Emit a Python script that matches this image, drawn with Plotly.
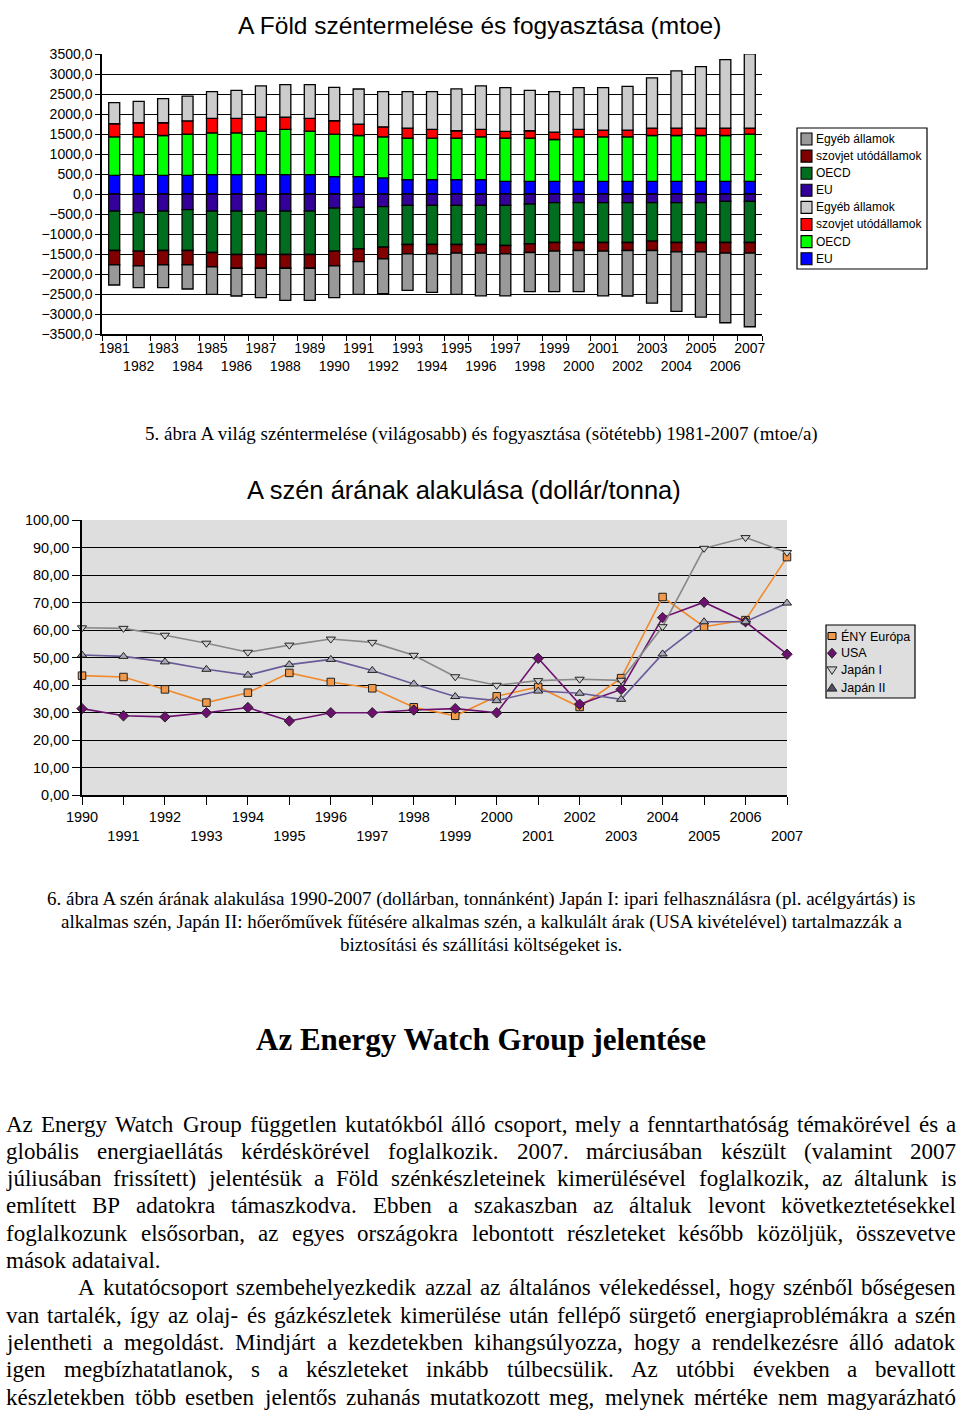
import plotly.graph_objects as go

# ---------------- data: chart 1 (mtoe) ----------------
years1 = [str(y) for y in range(1981, 2008)]
prod_eu = [468, 468, 468, 468, 485, 485, 485, 485, 485, 435, 435, 401, 360, 360, 360, 360,
           318, 318, 318, 318, 318, 318, 318, 318, 318, 318, 318]
prod_oecd = [962, 962, 995, 1028, 1045, 1045, 1087, 1129, 1087, 1062, 1028, 1028, 1037, 1037, 1037, 1070,
             1079, 1079, 1045, 1112, 1112, 1112, 1145, 1145, 1145, 1145, 1179]
prod_soviet = [326, 351, 318, 334, 360, 360, 351, 309, 318, 334, 284, 251, 251, 217, 184, 184,
               167, 184, 184, 184, 167, 167, 184, 184, 184, 184, 150]
prod_other = [527, 535, 602, 619, 669, 702, 778, 811, 844, 836, 878, 878, 911, 945, 1045, 1087,
              1095, 1012, 1012, 1045, 1062, 1095, 1254, 1430, 1538, 1714, 1856]
cons_eu = [-426, -468, -426, -393, -426, -426, -426, -426, -426, -351, -334, -318, -284, -284, -284, -284,
           -284, -251, -217, -217, -217, -217, -217, -217, -217, -184, -184]
cons_oecd = [-987, -962, -987, -1020, -1037, -1087, -1087, -1087, -1087, -1079, -1037, -1012, -978, -978, -978, -978,
             -1003, -995, -995, -995, -995, -995, -962, -995, -995, -1028, -1028]
cons_soviet = [-360, -368, -360, -360, -360, -343, -343, -343, -343, -368, -318, -293, -234, -234, -217, -217,
               -209, -217, -217, -201, -217, -201, -234, -234, -234, -268, -268]
cons_other = [-502, -543, -569, -602, -686, -694, -736, -803, -803, -794, -819, -870, -911, -962, -1028, -1070,
              -1053, -978, -1012, -1028, -1120, -1137, -1313, -1488, -1630, -1739, -1839]
ticktext1 = [y if int(y) % 2 == 1 else "<br>" + y for y in years1]

# ---------------- data: chart 2 (dollar/tonne) ----------------
years2 = list(range(1990, 2008))
eny = [43.4, 42.9, 38.4, 33.6, 37.2, 44.4, 41.1, 38.8, 31.9, 28.8, 35.9, 39.3, 32.0, 42.5, 72.0, 61.2, 63.6, 86.5]
usa = [31.4, 28.8, 28.4, 29.9, 31.8, 26.9, 29.9, 29.9, 30.9, 31.4, 29.9, 49.7, 33.0, 38.4, 64.5, 70.1, 63.0, 51.2]
jap1 = [60.8, 60.6, 58.1, 55.2, 51.9, 54.5, 56.7, 55.5, 50.8, 43.0, 39.9, 41.6, 42.1, 41.7, 61.2, 89.7, 93.6, 88.2]
jap2 = [50.9, 50.4, 48.4, 45.7, 43.6, 47.4, 49.3, 45.3, 40.4, 35.8, 34.3, 37.8, 37.0, 34.8, 51.3, 63.0, 63.0, 69.8]
ticktext2 = [str(y) if y % 2 == 0 else "<br>" + str(y) for y in years2]

# ---------------- texts ----------------
title1 = "A Föld széntermelése és fogyasztása (mtoe)"
title2 = "A szén árának alakulása (dollár/tonna)"
caption5 = "5. ábra A világ széntermelése (világosabb) és fogyasztása (sötétebb) 1981-2007 (mtoe/a)"
caption6 = [
    "6. ábra A szén árának alakulása 1990-2007 (dollárban, tonnánként) Japán I: ipari felhasználásra (pl. acélgyártás) is",
    "alkalmas szén, Japán II: hőerőművek fűtésére alkalmas szén, a kalkulált árak (USA kivételével) tartalmazzák a",
    "biztosítási és szállítási költségeket is.",
]
heading = "Az Energy Watch Group jelentése"
body_lines = [
    ("Az Energy Watch Group független kutatókból álló csoport, mely a fenntarthatóság témakörével és a", True, False),
    ("globális energiaellátás kérdéskörével foglalkozik. 2007. márciusában készült (valamint 2007", True, False),
    ("júliusában frissített) jelentésük a Föld szénkészleteinek kimerülésével foglalkozik, az általunk is", True, False),
    ("említett BP adatokra támaszkodva. Ebben a szakaszban az általuk levont következtetésekkel", True, False),
    ("foglalkozunk elsősorban, az egyes országokra lebontott részleteket később közöljük, összevetve", True, False),
    ("mások adataival.", False, False),
    ("A kutatócsoport szembehelyezkedik azzal az általános vélekedéssel, hogy szénből bőségesen", True, True),
    ("van tartalék, így az olaj- és gázkészletek kimerülése után fellépő sürgető energiaproblémákra a szén", True, False),
    ("jelentheti a megoldást. Mindjárt a kezdetekben kihangsúlyozza, hogy a rendelkezésre álló adatok", True, False),
    ("igen megbízhatatlanok, s a készleteket inkább túlbecsülik. Az utóbbi években a bevallott", True, False),
    ("készletekben több esetben jelentős zuhanás mutatkozott meg, melynek mértéke nem magyarázható", True, False),
]

W, H = 960, 1412
SANS = "Liberation Sans"
SERIF = "Liberation Serif"


def px(x):
    return x / W


def py(y):
    return 1 - y / H


fig = go.Figure()

# ---------- chart 1: stacked bars ----------
bar_specs = [
    ("EU", prod_eu, "#0000FF"),
    ("OECD", prod_oecd, "#00FF00"),
    ("szovjet utódállamok", prod_soviet, "#FF0000"),
    ("Egyéb államok", prod_other, "#CCCCCC"),
    ("EU", cons_eu, "#330099"),
    ("OECD", cons_oecd, "#006E1E"),
    ("szovjet utódállamok", cons_soviet, "#800000"),
    ("Egyéb államok", cons_other, "#999999"),
]
for name, vals, col in bar_specs:
    fig.add_trace(go.Bar(
        x=years1, y=vals, name=name, xaxis="x", yaxis="y", showlegend=False,
        marker=dict(color=col, line=dict(color="black", width=1.3)),
    ))

# ---------- chart 2: lines ----------
line_specs = [
    ("ÉNY Európa", eny, "#F08A2C", "square", "#F39A4A", 7.5),
    ("USA", usa, "#6E1070", "diamond", "#6E1070", 8),
    ("Japán I", jap1, "#888888", "triangle-down", "#D0D0D0", 8),
    ("Japán II", jap2, "#6A5A98", "triangle-up", "#A8A8B8", 8),
]
for name, vals, lc, sym, fc, sz in line_specs:
    fig.add_trace(go.Scatter(
        x=years2, y=vals, name=name, xaxis="x2", yaxis="y2", mode="lines+markers",
        line=dict(color=lc, width=1.6), cliponaxis=False, showlegend=False,
        marker=dict(symbol=sym, size=sz, color=fc, line=dict(color="#222222", width=1)),
    ))

annotations = []
shapes = [dict(type="rect", xref="paper", yref="paper", x0=px(82), x1=px(787), y0=py(795), y1=py(520),
               fillcolor="#DEDEDE", line=dict(width=0), layer="below")]


def ann(text, x, y, size, family, xanchor="center", bold=False):
    annotations.append(dict(
        text=("<b>%s</b>" % text) if bold else text, x=px(x), y=py(y), xref="paper", yref="paper",
        xanchor=xanchor, yanchor="middle", showarrow=False, borderpad=0, borderwidth=0,
        font=dict(family=family, size=size, color="black"),
    ))


def rect(x0, y0, x1, y1, fill, lw=1.2):
    shapes.append(dict(type="rect", xref="paper", yref="paper", x0=px(x0), x1=px(x1), y0=py(y1), y1=py(y0),
                       fillcolor=fill, line=dict(color="black", width=lw), layer="above"))


def poly(points, fill):
    d = "M " + " L ".join("%.5f,%.5f" % (px(a), py(b)) for a, b in points) + " Z"
    shapes.append(dict(type="path", xref="paper", yref="paper", path=d, fillcolor=fill,
                       line=dict(color="#222222", width=1), layer="above"))


ann(title1, 479, 25, 24.5, SANS)
ann(title2, 464, 490, 25.5, SANS)
ann(caption5, 481, 434, 19, SERIF)
for i, line in enumerate(caption6):
    ann(line, 481, [899, 922, 944][i], 19, SERIF)
ann(heading, 481, 1039, 31, SERIF, bold=True)

# ---------- legend of chart 1 (reversed trace order, like the reference) ----------
rect(797, 128, 927, 269, "white")
for k, (name, vals, col) in enumerate(reversed(bar_specs)):
    yc = 139 + k * 17.1
    rect(801, yc - 6, 812, yc + 6, col, lw=1.1)
    ann(name, 816, yc, 12, SANS, xanchor="left")

# ---------- legend of chart 2 ----------
rect(826, 625, 915, 698, "#DEDEDE")
for k, (name, vals, lc, sym, fc, sz) in enumerate(line_specs):
    yc = 636 + k * 17.2
    xc = 832
    if sym == "square":
        rect(xc - 4, yc - 3.5, xc + 4, yc + 3.5, fc, lw=1)
    elif sym == "diamond":
        poly([(xc, yc - 5), (xc + 4.5, yc), (xc, yc + 5), (xc - 4.5, yc)], fc)
    elif sym == "triangle-down":
        poly([(xc - 5, yc - 3.5), (xc + 5, yc - 3.5), (xc, yc + 4)], fc)
    else:
        poly([(xc - 5, yc + 3.5), (xc + 5, yc + 3.5), (xc, yc - 4)], "#505060")
    ann(name, 841, yc, 12.5, SANS, xanchor="left")

# Times-metric widths (per 1000 em) used to justify body lines
TW = {' ': 250, 'a': 444, 'b': 500, 'c': 444, 'd': 500, 'e': 444, 'f': 333, 'g': 500, 'h': 500, 'i': 278,
      'j': 278, 'k': 500, 'l': 278, 'm': 778, 'n': 500, 'o': 500, 'p': 500, 'q': 500, 'r': 333, 's': 389,
      't': 278, 'u': 500, 'v': 500, 'w': 722, 'x': 500, 'y': 500, 'z': 444,
      'A': 722, 'B': 667, 'C': 667, 'D': 722, 'E': 611, 'F': 556, 'G': 722, 'H': 722, 'I': 333, 'J': 389,
      'K': 722, 'L': 611, 'M': 889, 'N': 722, 'O': 722, 'P': 556, 'Q': 722, 'R': 667, 'S': 556, 'T': 611,
      'U': 722, 'V': 722, 'W': 944, 'X': 722, 'Y': 722, 'Z': 611,
      '.': 250, ',': 250, '-': 333, '(': 333, ')': 333, ':': 278, '/': 278,
      'á': 444, 'é': 444, 'í': 278, 'ó': 500, 'ö': 500, 'ő': 500, 'ú': 500, 'ü': 500, 'ű': 500, 'É': 611}
FS = 23
LEFT, RIGHT = 6, 956
body_y0, body_dy = 1124, 27.3
for i, (line, justify, indent) in enumerate(body_lines):
    y = body_y0 + i * body_dy
    left = LEFT + (72 if indent else 0)
    if not justify:
        ann(line, left, y, FS, SERIF, xanchor="left")
        continue
    words = line.split(" ")
    widths = [sum(TW.get(c, 500) for c in w) / 1000 * FS for w in words]
    gap = (RIGHT - left - sum(widths)) / (len(words) - 1)
    x = left
    for j, w in enumerate(words):
        if j == len(words) - 1:
            ann(w, RIGHT, y, FS, SERIF, xanchor="right")
        else:
            ann(w, x, y, FS, SERIF, xanchor="left")
        x += widths[j] + gap

fig.update_layout(
    template="none",
    width=W, height=H, autosize=False,
    margin=dict(l=0, r=0, t=0, b=0, pad=0),
    paper_bgcolor="white", plot_bgcolor="rgba(0,0,0,0)",
    separators=",.",
    barmode="relative", bargap=0.55,
    font=dict(family=SANS, color="black"),
    showlegend=False,
    annotations=annotations,
    shapes=shapes,
    xaxis=dict(domain=[px(102), px(762)], anchor="y", type="category", automargin=False,
               tickvals=years1, ticktext=ticktext1, tickangle=0,
               showline=True, linecolor="black", linewidth=1.5, showgrid=False, zeroline=False,
               ticks="outside", tickson="boundaries", ticklen=5, tickcolor="black", tickwidth=1.3,
               tickfont=dict(size=14, family=SANS)),
    yaxis=dict(domain=[py(334), py(54)], anchor="x", range=[-3500, 3500], dtick=500, tickformat=".1f",
               automargin=False,
               showline=True, linecolor="black", linewidth=1.5,
               showgrid=True, gridcolor="black", gridwidth=1.3, zeroline=False,
               ticks="outside", ticklen=5, tickcolor="black", tickwidth=1.3,
               tickfont=dict(size=14, family=SANS)),
    xaxis2=dict(domain=[px(82), px(787)], anchor="y2", range=[1990, 2007], automargin=False,
                tickvals=years2, ticktext=ticktext2, tickangle=0,
                showline=True, linecolor="black", linewidth=1.5, showgrid=False, zeroline=False,
                ticks="outside", ticklen=8, tickcolor="black", tickwidth=1.3,
                tickfont=dict(size=14.5, family=SANS)),
    yaxis2=dict(domain=[py(795), py(520)], anchor="x2", range=[0, 100], dtick=10, tickformat=".2f",
                automargin=False,
                showline=True, linecolor="black", linewidth=1.5,
                showgrid=True, gridcolor="black", gridwidth=1.3, zeroline=False,
                ticks="outside", ticklen=8, tickcolor="black", tickwidth=1.3,
                tickfont=dict(size=14.5, family=SANS)),
)

fig.write_html("out.html", config={"displayModeBar": False},
               post_script="document.body.style.margin='0';document.body.style.overflow='hidden';")
